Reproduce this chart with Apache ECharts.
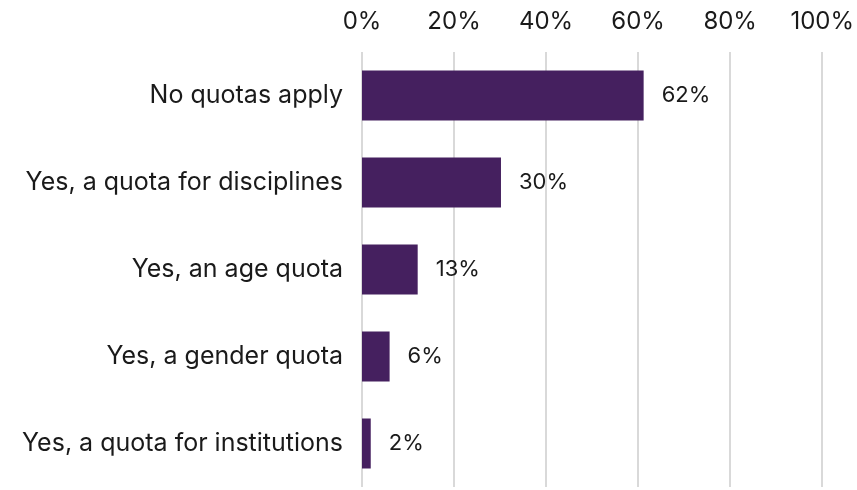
<!DOCTYPE html>
<html><head><meta charset="utf-8">
<script src="https://cdn.jsdelivr.net/npm/echarts@6/dist/echarts.min.js"></script>
<style>html,body{margin:0;padding:0;background:#fff}#c{width:857px;height:490px}</style>
</head><body><div id="c"></div>
<script>
const categories = ["No quotas apply","Yes, a quota for disciplines","Yes, an age quota","Yes, a gender quota","Yes, a quota for institutions"];
const values = [61.2, 30.2, 12.1, 6.0, 1.9];
const labels = ["62%","30%","13%","6%","2%"];
const tickLabels = ["0%","20%","40%","60%","80%","100%"];

const chart = echarts.init(document.getElementById('c'));
const font = 'Inter, "Noto Sans", sans-serif';
chart.setOption({
  animation:false,
  grid:{left:362,right:31,top:52,bottom:3,containLabel:false},
  xAxis:{type:'value',position:'top',min:0,max:100,interval:20,
    axisLine:{show:false},axisTick:{show:false},
    splitLine:{lineStyle:{color:'#d9d9d9',width:2}},
    axisLabel:{margin:18,fontFamily:font,fontSize:24,color:'#1a1a1a',
      formatter:(v)=>tickLabels[Math.round(v/20)]}},
  yAxis:{type:'category',inverse:true,data:categories,
    axisLine:{show:false},axisTick:{show:false},
    axisLabel:{margin:19,fontFamily:font,fontSize:25,color:'#1a1a1a'}},
  series:[{type:'bar',data:values,barWidth:50,itemStyle:{color:'#45205f'},
    label:{show:true,position:'right',distance:18,fontFamily:font,fontSize:22,color:'#1a1a1a',
      formatter:(p)=>labels[p.dataIndex]}}]
});
</script></body></html>
